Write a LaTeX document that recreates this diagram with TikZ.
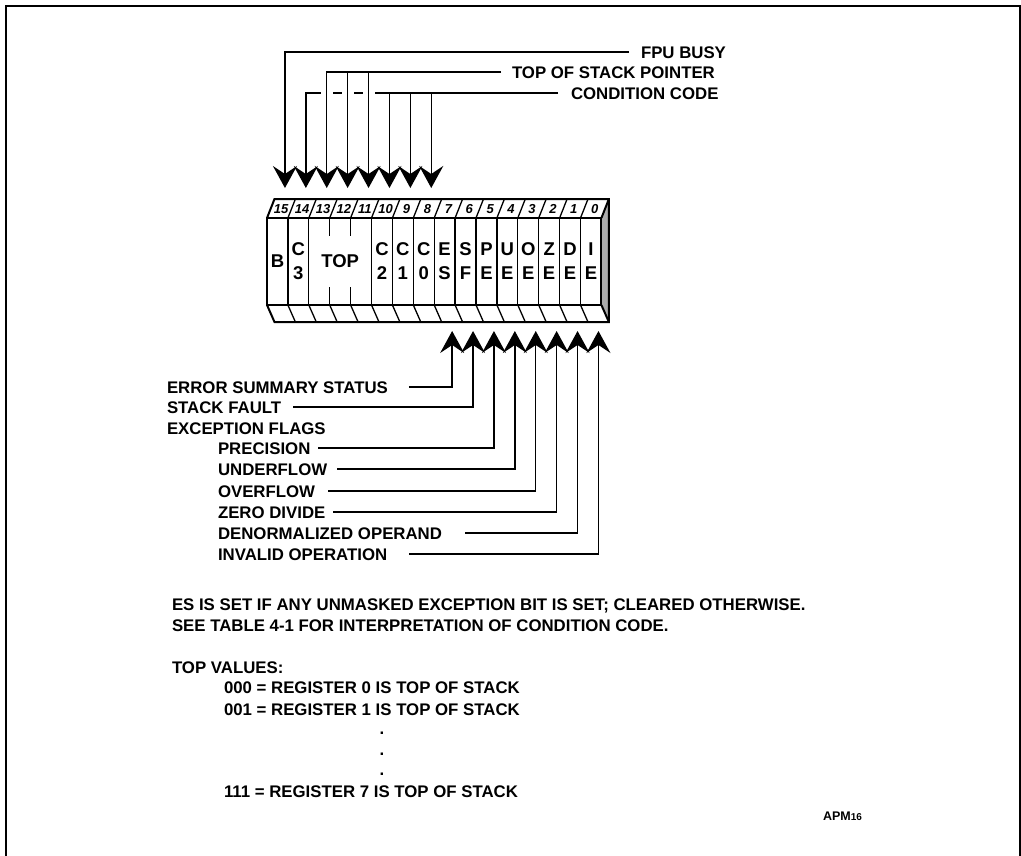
\documentclass[tikz,border=0pt]{standalone}
\usepackage{fontspec}
\setmainfont{Liberation Sans}
\usetikzlibrary{arrows.meta}

\tikzset{
  lbl/.style={anchor=west, inner sep=0pt, outer sep=0pt, text height=12pt, text depth=0pt,
    font=\fontsize{16.8}{18}\selectfont\bfseries},
  dotmark/.style={inner sep=0pt, font=\fontsize{16.8}{18}\selectfont\bfseries},
  ptr/.style={line width=1.4pt, -{Stealth[length=22pt, width=24pt, inset=8pt]}},
  hop/.style={white, line width=4pt},
  regline/.style={line width=2pt},
  divider/.style={line width=1.3pt},
  cell/.style={inner sep=0pt, align=center, font=\fontsize{18.5}{24}\selectfont\bfseries},
  bitno/.style={inner sep=0pt, text height=9.4pt, text depth=0pt,
    font=\fontsize{13}{13}\selectfont\bfseries\itshape}
}

\begin{document}
\begin{tikzpicture}[x=1pt, y=-1pt]
\useasboundingbox (0,0) rectangle (1021,855);

% Outer frame
\draw[line width=2pt] (6,6) rectangle (1019.5,862);

% Register body
\fill[gray!65] (601.4,218) -- (608.9,199) -- (608.9,322) -- (601.4,305) -- cycle;
\draw[regline] (267,218) rectangle (601.4,305);
\draw[regline] (267,218) -- (274.5,199) -- (608.9,199) -- (608.9,322) -- (274.5,322) -- (267,305);
\draw[regline] (601.4,218) -- (608.9,199);
\draw[regline] (601.4,305) -- (608.9,322);

% Cell dividers
\foreach \k in {1,...,15} {
  \draw[divider] ({267+\k*20.9},218) -- ++(7.5,-19);
  \draw[divider] ({267+\k*20.9},305) -- ++(7.5,17);
}
\foreach \k in {1,2,5,6,7,8,9,10,11,12,13,14,15}
  \draw[divider] ({267+\k*20.9},218) -- ++(0,87);
\foreach \k in {3,4} {
  \draw[divider] ({267+\k*20.9},218) -- ++(0,18);
  \draw[divider] ({267+\k*20.9},305) -- ++(0,-18);
}

% Bit numbers and arrow targets
\foreach \i in {0,...,15} {
  \node[bitno] (n\i) at ({267+(15.5-\i)*20.9+3.75},208.5) {\i};
  \coordinate (f\i) at ({267+(15.5-\i)*20.9},261.5);
  \coordinate (t\i) at ({267+(15.5-\i)*20.9+7.5},188);
  \coordinate (b\i) at ({267+(15.5-\i)*20.9+7.5},331);
}

% Field names
\node[cell] (busy) at (f15) {B};
\node[cell] (cthree) at (f14) {C\\3};
\node[cell] (top) at (f12) {TOP};
\node[cell] (ctwo) at (f10) {C\\2};
\node[cell] (cone) at (f9) {C\\1};
\node[cell] (czero) at (f8) {C\\0};
\node[cell] (es) at (f7) {E\\S};
\node[cell] (sf) at (f6) {S\\F};
\node[cell] (pe) at (f5) {P\\E};
\node[cell] (ue) at (f4) {U\\E};
\node[cell] (oe) at (f3) {O\\E};
\node[cell] (ze) at (f2) {Z\\E};
\node[cell] (de) at (f1) {D\\E};
\node[cell] (ie) at (f0) {I\\E};

% Upper labels
\node[lbl] (fpulbl) at (641,52) {FPU BUSY};
\node[lbl] (toslbl) at (512,72) {TOP OF STACK POINTER};
\node[lbl] (cclbl) at (571,93) {CONDITION CODE};

\draw[ptr] ([xshift=-12pt]fpulbl.west) -| (t15);
\draw[ptr] ([xshift=-13pt]cclbl.west) -| (t14);
\foreach \i in {10,9,8}
  \draw[ptr] (t\i |- cclbl.west) -- (t\i);
\foreach \i in {13,12,11}
  \draw[hop] ([xshift=-6pt]t\i |- cclbl.west) -- ([xshift=6pt]t\i |- cclbl.west);
\draw[ptr] ([xshift=-11pt]toslbl.west) -| (t13);
\foreach \i in {12,11}
  \draw[ptr] (t\i |- toslbl.west) -- (t\i);

% Lower labels
\node[lbl] (esslbl) at (167,387) {ERROR SUMMARY STATUS};
\node[lbl] (sflbl) at (167,407) {STACK FAULT};
\node[lbl] (exclbl) at (167,428) {EXCEPTION FLAGS};
\node[lbl] (pelbl) at (218,448) {PRECISION};
\node[lbl] (uelbl) at (218,469) {UNDERFLOW};
\node[lbl] (oelbl) at (218,491) {OVERFLOW};
\node[lbl] (zelbl) at (218,512) {ZERO DIVIDE};
\node[lbl] (delbl) at (218,533) {DENORMALIZED OPERAND};
\node[lbl] (ielbl) at (218,554) {INVALID OPERATION};

\draw[ptr] ([xshift=21pt]esslbl.east) -| (b7);
\draw[ptr] ([xshift=12pt]sflbl.east) -| (b6);
\draw[ptr] ([xshift=8pt]pelbl.east) -| (b5);
\draw[ptr] ([xshift=10pt]uelbl.east) -| (b4);
\draw[ptr] ([xshift=13pt]oelbl.east) -| (b3);
\draw[ptr] ([xshift=8pt]zelbl.east) -| (b2);
\draw[ptr] ([xshift=23pt]delbl.east) -| (b1);
\draw[ptr] ([xshift=22pt]ielbl.east) -| (b0);

% Notes
\node[lbl] (esnote) at (172,604) {ES IS SET IF ANY UNMASKED EXCEPTION BIT IS SET; CLEARED OTHERWISE.};
\node[lbl] (seenote) at (172,625) {SEE TABLE 4-1 FOR INTERPRETATION OF CONDITION CODE.};
\node[lbl] (topvals) at (172,667) {TOP VALUES:};
\node[lbl] (val0) at (224,687) {000 = REGISTER 0 IS TOP OF STACK};
\node[lbl] (val1) at (224,709) {001 = REGISTER 1 IS TOP OF STACK};
\node[dotmark] (dot1) at (382,733) {.};
\node[dotmark] (dot2) at (382,754) {.};
\node[dotmark] (dot3) at (382,774) {.};
\node[lbl] (val7) at (224,791) {111 = REGISTER 7 IS TOP OF STACK};
\node[lbl, text height=9pt, font=\fontsize{12.5}{14}\selectfont\bfseries] (apm) at (823,816)
  {APM{\fontsize{10}{12}\selectfont 16}};

\end{tikzpicture}
\end{document}
